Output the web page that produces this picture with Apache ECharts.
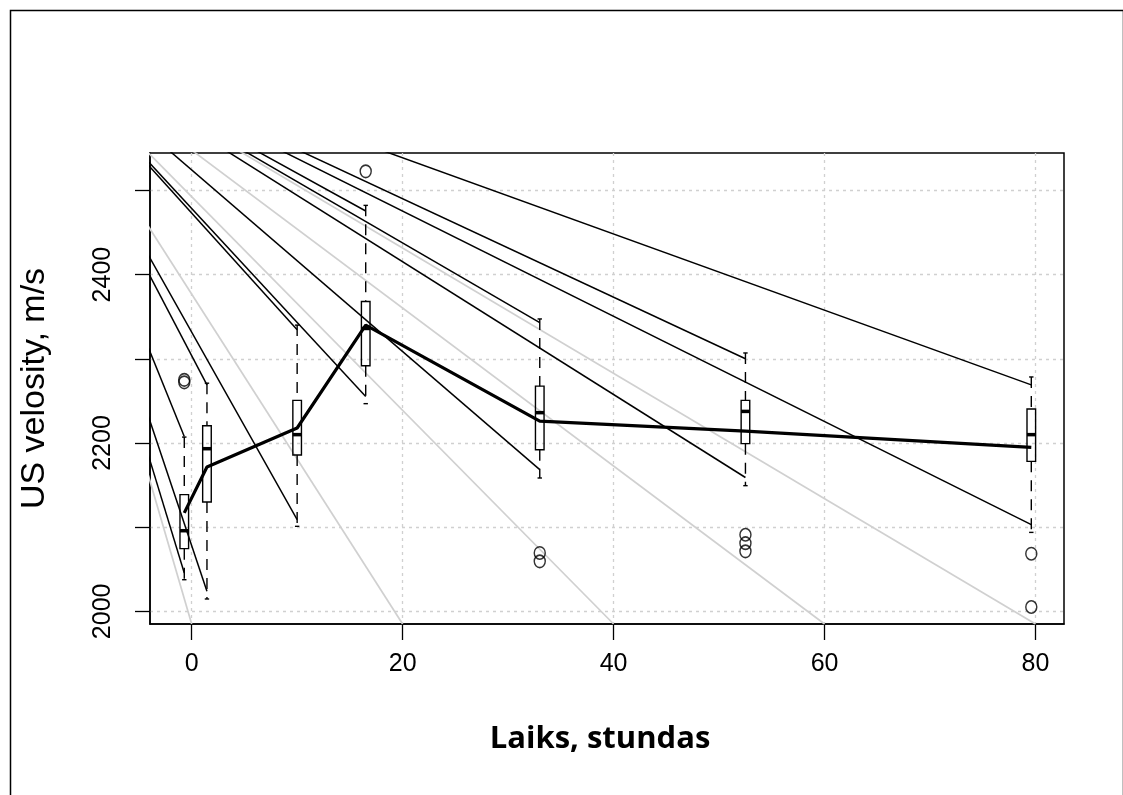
<!DOCTYPE html>
<html>
<head>
<meta charset="utf-8">
<script src="https://cdn.jsdelivr.net/npm/echarts@6/dist/echarts.min.js"></script>
<style>
html, body { margin: 0; padding: 0; background: #fff; }
#chart { width: 1123px; height: 795px; }
</style>
</head>
<body>
<div id="chart"></div>
<script>
// box positions (hours) and the five numbers of each box
var boxHours    = [-0.7, 1.45, 10, 16.5, 33, 52.5, 79.6];
var whiskerLow  = [2037.6, 2014.7, 2101, 2246.7, 2158.4, 2149.3, 2093.8];
var q1          = [2074.5, 2129.9, 2185.7, 2291.8, 2192, 2199.2, 2178.2];
var medians     = [2095.8, 2193.2, 2209.9, 2336, 2236, 2237.5, 2209.9];
var q3          = [2138.6, 2220.5, 2250.6, 2368, 2267.5, 2250.6, 2240.4];
var whiskerHigh = [2207, 2271, 2340, 2482.2, 2347.3, 2306.9, 2278.4];
// outliers: box index + value
var outlierBox  = [0, 0, 3, 4, 4, 5, 5, 5, 6, 6];
var outlierVal  = [2275, 2272, 2522.6, 2069.4, 2059.4, 2091, 2081, 2071.3, 2068.5, 2005.2];
// thick line through the boxes
var meanVal     = [2117, 2171.5, 2217.8, 2340, 2226, 2214, 2194.8];
// fan of thin lines from one apex point
var apex        = [-16.75, 2705];
var blackEndHigh = [2207.8, 2269, 2334.6, 2475.5, 2343, 2300, 2269];
var blackEndLow  = [2045.6, 2023.8, 2108.9, 2255.3, 2168.3, 2159, 2103];
var grayEndX    = [0, 20, 40, 60, 80];
var grayEndY    = 1985;
// axes
var xTicks = [0, 20, 40, 60, 80];
var yTicks = [2000, 2100, 2200, 2300, 2400, 2500];
var yLabels = [2000, 2200, 2400];

var myChart = echarts.init(document.getElementById('chart'), null, {renderer: 'canvas'});

var fanSeries = [];
boxHours.forEach(function (h, i) {
    [blackEndHigh[i], blackEndLow[i]].forEach(function (v) {
        fanSeries.push({
            type: 'line', silent: true, symbol: 'none', z: 2,
            lineStyle: {color: '#000', width: 1.5},
            data: [apex, [h, v]]
        });
    });
});
grayEndX.forEach(function (x) {
    fanSeries.push({
        type: 'line', silent: true, symbol: 'none', z: 3,
        lineStyle: {color: '#d0d0d0', width: 1.7},
        data: [apex, [x, grayEndY]]
    });
});

function renderBox(params, api) {
    var x = api.value(0);
    var lo = api.coord([x, api.value(1)]);
    var b1 = api.coord([x, api.value(2)]);
    var md = api.coord([x, api.value(3)]);
    var b3 = api.coord([x, api.value(4)]);
    var hi = api.coord([x, api.value(5)]);
    var cx = lo[0], hw = 4.3, sw = 2.2;
    var dash = {stroke: '#000', lineWidth: 1.4, lineDash: [11, 8]};
    var solid = {stroke: '#000', lineWidth: 1.4};
    return {
        type: 'group',
        children: [
            {type: 'line', shape: {x1: cx, y1: hi[1], x2: cx, y2: b3[1]}, style: dash},
            {type: 'line', shape: {x1: cx, y1: b1[1], x2: cx, y2: lo[1]}, style: dash},
            {type: 'line', shape: {x1: cx - sw, y1: hi[1], x2: cx + sw, y2: hi[1]}, style: solid},
            {type: 'line', shape: {x1: cx - sw, y1: lo[1], x2: cx + sw, y2: lo[1]}, style: solid},
            {type: 'rect', shape: {x: cx - hw, y: b3[1], width: 2 * hw, height: b1[1] - b3[1]},
                style: {fill: 'none', stroke: '#000', lineWidth: 1.4}},
            {type: 'line', shape: {x1: cx - hw, y1: md[1], x2: cx + hw, y2: md[1]},
                style: {stroke: '#000', lineWidth: 3.5}}
        ]
    };
}

var option = {
    backgroundColor: '#fff',
    animation: false,
    textStyle: {fontFamily: 'Liberation Sans, Arial, sans-serif'},
    grid: {
        left: 150, top: 153, right: 59, bottom: 171,
        show: true, borderColor: '#000', borderWidth: 1.5, backgroundColor: 'transparent'
    },
    graphic: [{
        type: 'rect', left: 8, top: 8, silent: true,
        shape: {width: 1113, height: 800},
        style: {fill: 'none', stroke: '#000', lineWidth: 1.5}
    }],
    xAxis: {
        type: 'value', min: -3.95, max: 82.7,
        name: 'Laiks, stundas', nameLocation: 'middle', nameGap: 100,
        nameTextStyle: {
            fontSize: 31, fontWeight: 'bold', color: '#000', fontFamily: 'Open Sans, sans-serif',
            padding: [0, 14, 0, 0]
        },
        axisLine: {show: true, onZero: false, lineStyle: {color: '#000', width: 1.5}},
        axisTick: {show: true, length: 16, customValues: xTicks, lineStyle: {color: '#000', width: 1.3}},
        axisLabel: {customValues: xTicks, fontSize: 25, color: '#000', margin: 28},
        splitLine: {show: true, lineStyle: {color: '#d0d0d0', width: 1.3, type: [3, 4]}}
    },
    yAxis: {
        type: 'value', min: 1985, max: 2544.4,
        name: 'US velosity, m/s', nameLocation: 'middle', nameGap: 98, nameRotate: 90,
        nameTextStyle: {fontSize: 34, color: '#000'},
        axisLine: {show: true, onZero: false, lineStyle: {color: '#000', width: 1.5}},
        axisTick: {show: true, length: 15, customValues: yTicks, lineStyle: {color: '#000', width: 1.3}},
        axisLabel: {
            customValues: yLabels, fontSize: 25, color: '#000', rotate: 90, margin: 34,
            formatter: function (v) { return String(v); }
        },
        splitLine: {show: true, lineStyle: {color: '#d0d0d0', width: 1.3, type: [3, 4]}}
    },
    series: fanSeries.concat([
        {
            type: 'custom', z: 4, silent: true,
            renderItem: renderBox,
            encode: {x: 0, y: [1, 2, 3, 4, 5]},
            data: boxHours.map(function (h, i) {
                return [h, whiskerLow[i], q1[i], medians[i], q3[i], whiskerHigh[i]];
            })
        },
        {
            type: 'line', z: 5, silent: true, symbol: 'none',
            lineStyle: {color: '#000', width: 3.2},
            data: boxHours.map(function (h, i) { return [h, meanVal[i]]; })
        },
        {
            type: 'scatter', z: 6, silent: true,
            symbol: 'circle', symbolSize: [11, 12.5],
            itemStyle: {color: 'transparent', borderColor: '#000', borderWidth: 1.5},
            data: outlierBox.map(function (b, i) { return [boxHours[b], outlierVal[i]]; })
        }
    ])
};
myChart.setOption(option);
</script>
</body>
</html>
